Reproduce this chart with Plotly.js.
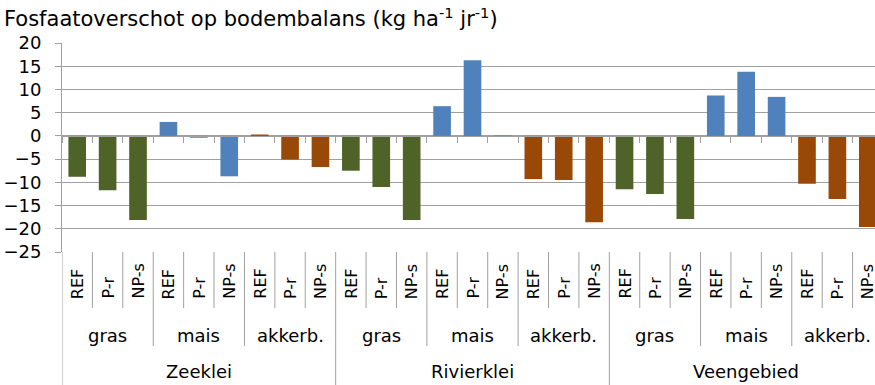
<!DOCTYPE html>
<html>
<head>
<meta charset="utf-8">
<script src="https://cdn.plot.ly/plotly-3.0.1.min.js"></script>
<style>
  html, body { margin: 0; padding: 0; overflow: hidden; background: #fff; }
  #chart { width: 883px; height: 385px; }
</style>
</head>
<body>
<div id="chart"></div>
<script>
// Fosfaatoverschot per grondsoort, gewas en scenario
const regions = ['Zeeklei', 'Rivierklei', 'Veengebied'];
const crops = ['gras', 'mais', 'akkerb.'];
const scenarios = ['REF', 'P-r', 'NP-s'];
const cropColors = ['#4F6228', '#4F81BD', '#984807'];

// values per region, ordered gras (REF, P-r, NP-s), mais (...), akkerb. (...)
const zeekleiValues    = [-8.8, -11.7, -18.1,   3.0, -0.4,  -8.7,    0.3,  -5.1,  -6.7];
const rivierkleiValues = [-7.5, -11.0, -18.1,   6.4, 16.3,   0.1,   -9.3,  -9.5, -18.6];
const veengebiedValues = [-11.5, -12.5, -17.9,  8.7, 13.8,   8.4,  -10.3, -13.6, -19.6];
const regionValues = [zeekleiValues, rivierkleiValues, veengebiedValues];

const FONT = 'DejaVu Sans, Verdana, sans-serif';
const GRID = '#a0a0a0';

const xs = [], ys = [], colors = [], names = [];
regions.forEach((reg, r) => {
  crops.forEach((crop, c) => {
    scenarios.forEach((sc, s) => {
      const i = r * 9 + c * 3 + s;
      xs.push(i);
      ys.push(regionValues[r][c * 3 + s]);
      colors.push(cropColors[c]);
      names.push(reg + ' / ' + crop + ' / ' + sc);
    });
  });
});
const nCat = xs.length;

// category labels below the plot (three levels)
const annotations = [];
const shapes = [];
const pY = px => (252 - px) / 209;   // pixel row -> paper y

xs.forEach((x, i) => {
  annotations.push({
    x: x, xref: 'x', y: pY(301), yref: 'paper',
    text: scenarios[i % 3], textangle: -90, showarrow: false,
    xanchor: 'center', yanchor: 'bottom',
    font: { family: FONT, size: 16, color: '#000' }
  });
});
regions.forEach((reg, r) => {
  crops.forEach((crop, c) => {
    annotations.push({
      x: r * 9 + c * 3 + 1, xref: 'x', y: pY(335), yref: 'paper',
      text: crop, showarrow: false, xanchor: 'center', yanchor: 'middle',
      font: { family: FONT, size: 18, color: '#000' }
    });
  });
  annotations.push({
    x: r * 9 + 4, xref: 'x', y: pY(371), yref: 'paper',
    text: reg, showarrow: false, xanchor: 'center', yanchor: 'middle',
    font: { family: FONT, size: 18, color: '#000' }
  });
});

// divider lines between the label groups
for (let k = 0; k <= nCat; k++) {
  let bottom;
  if (k % 9 === 0) bottom = pY(400);
  else if (k % 3 === 0) bottom = pY(346);
  else bottom = pY(308);
  shapes.push({
    type: 'line', xref: 'x', yref: 'paper',
    x0: k - 0.5, x1: k - 0.5, y0: 0, y1: bottom,
    line: { color: GRID, width: 1 }
  });
}

const trace = {
  type: 'bar',
  x: xs,
  y: ys,
  text: names,
  hoverinfo: 'text+y',
  textposition: 'none',
  marker: { color: colors, line: { width: 0 } },
  width: 0.58
};

const tickBounds = [];
for (let k = 0; k <= nCat; k++) tickBounds.push(k - 0.5);

const layout = {
  width: 883,
  height: 385,
  margin: { l: 62, r: 0, t: 43, b: 133 },
  paper_bgcolor: '#fff',
  plot_bgcolor: '#fff',
  showlegend: false,
  title: {
    text: 'Fosfaatoverschot op bodembalans (kg ha<sup>-1</sup> jr<sup>-1</sup>)',
    font: { family: FONT, size: 21, color: '#000' },
    xref: 'container', x: 4 / 883, xanchor: 'left',
    yref: 'container', y: 1 - 19 / 385, yanchor: 'middle'
  },
  xaxis: {
    range: [-0.5, nCat - 0.5],
    anchor: 'free',
    position: 25 / 45,
    showgrid: false,
    zeroline: false,
    showline: true,
    linecolor: GRID,
    linewidth: 1,
    ticks: 'outside',
    ticklen: 6,
    tickcolor: GRID,
    tickvals: tickBounds,
    showticklabels: false,
    fixedrange: true
  },
  yaxis: {
    range: [-25, 20],
    dtick: 5,
    tick0: 0,
    showgrid: true,
    gridcolor: GRID,
    gridwidth: 1,
    zeroline: false,
    showline: true,
    linecolor: GRID,
    ticks: 'outside',
    ticklen: 6,
    tickcolor: GRID,
    ticklabelstandoff: 10,
    tickfont: { family: FONT, size: 18, color: '#000' },
    fixedrange: true
  },
  bargap: 0.42,
  annotations: annotations,
  shapes: shapes
};

Plotly.newPlot('chart', [trace], layout, { displayModeBar: false, staticPlot: true });
</script>
</body>
</html>
